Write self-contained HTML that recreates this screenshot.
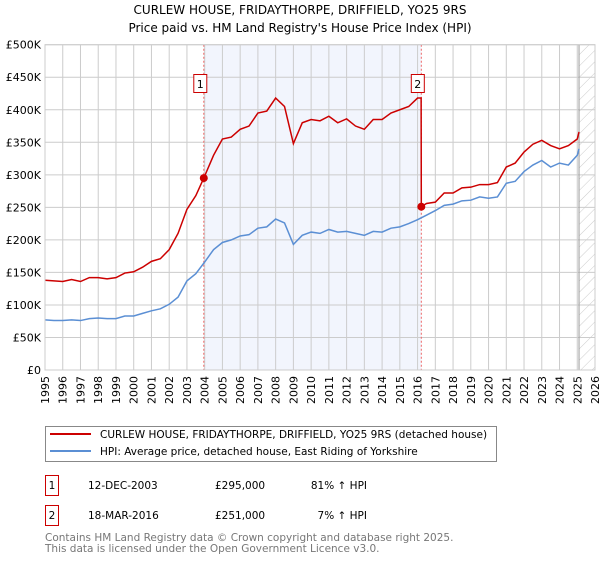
<!DOCTYPE html>
<html><head><meta charset="utf-8"><style>
body{margin:0;background:#fff;font-family:"DejaVu Sans","Liberation Sans",sans-serif;}
svg text{font-family:"DejaVu Sans","Liberation Sans",sans-serif;}
</style></head><body>
<svg id="chart" width="600" height="560" xmlns="http://www.w3.org/2000/svg">
<defs><pattern id="hatch" width="8" height="8" patternUnits="userSpaceOnUse" patternTransform="rotate(45)"><line x1="0" y1="0" x2="0" y2="8" stroke="#ccc" stroke-width="1"/></pattern></defs>
<text x="300" y="14" text-anchor="middle" font-size="12" fill="#000">CURLEW HOUSE, FRIDAYTHORPE, DRIFFIELD, YO25 9RS</text>
<text x="300" y="32" text-anchor="middle" font-size="12" fill="#000">Price paid vs. HM Land Registry's House Price Index (HPI)</text>
<g id="grid"></g>
<g id="series"></g>
<g id="legend">
<rect x="45.5" y="426.5" width="451" height="35" fill="#fff" stroke="#888"/>
<line x1="50" y1="434" x2="91" y2="434" stroke="#cc0000" stroke-width="2"/>
<text x="100" y="438" font-size="10.5">CURLEW HOUSE, FRIDAYTHORPE, DRIFFIELD, YO25 9RS (detached house)</text>
<line x1="50" y1="451" x2="91" y2="451" stroke="#5b8fd4" stroke-width="2"/>
<text x="100" y="455" font-size="10.5">HPI: Average price, detached house, East Riding of Yorkshire</text>
</g>
<g font-size="10.5">
<rect x="45.5" y="475.5" width="13" height="20" fill="#fff" stroke="#cc0000"/>
<text x="52" y="489" text-anchor="middle">1</text>
<text x="88" y="489">12-DEC-2003</text>
<text x="215" y="489">£295,000</text>
<text x="367" y="489" text-anchor="end">81% ↑ HPI</text>
<rect x="45.5" y="505.5" width="13" height="20" fill="#fff" stroke="#cc0000"/>
<text x="52" y="519" text-anchor="middle">2</text>
<text x="88" y="519">18-MAR-2016</text>
<text x="215" y="519">£251,000</text>
<text x="367" y="519" text-anchor="end">7% ↑ HPI</text>
</g>
<text x="45" y="541" font-size="10.5" fill="#777">Contains HM Land Registry data © Crown copyright and database right 2025.</text>
<text x="45" y="552" font-size="10.5" fill="#777">This data is licensed under the Open Government Licence v3.0.</text>
</svg>
<script>
const yTicks=[0,50,100,150,200,250,300,350,400,450,500];
const yTickLabels=["£0","£50K","£100K","£150K","£200K","£250K","£300K","£350K","£400K","£450K","£500K"];
const xYears=[1995,1996,1997,1998,1999,2000,2001,2002,2003,2004,2005,2006,2007,2008,2009,2010,2011,2012,2013,2014,2015,2016,2017,2018,2019,2020,2021,2022,2023,2024,2025,2026];
const hpiYears=[1995,1995.5,1996,1996.5,1997,1997.5,1998,1998.5,1999,1999.5,2000,2000.5,2001,2001.5,2002,2002.5,2003,2003.5,2004,2004.5,2005,2005.5,2006,2006.5,2007,2007.5,2008,2008.5,2009,2009.5,2010,2010.5,2011,2011.5,2012,2012.5,2013,2013.5,2014,2014.5,2015,2015.5,2016,2016.5,2017,2017.5,2018,2018.5,2019,2019.5,2020,2020.5,2021,2021.5,2022,2022.5,2023,2023.5,2024,2024.5,2025,2025.1];
const hpiValues=[77,76,76,77,76,79,80,79,79,83,83,87,91,94,101,112,137,148,166,185,196,200,206,208,218,220,232,226,193,207,212,210,216,212,213,210,207,213,212,218,220,225,231,238,245,253,255,260,261,266,264,266,287,290,305,315,322,312,318,315,330,340];
const priceYears=[1995,1995.5,1996,1996.5,1997,1997.5,1998,1998.5,1999,1999.5,2000,2000.5,2001,2001.5,2002,2002.5,2003,2003.5,2003.95,2004.5,2005,2005.5,2006,2006.5,2007,2007.5,2008,2008.5,2009,2009.5,2010,2010.5,2011,2011.5,2012,2012.5,2013,2013.5,2014,2014.5,2015,2015.5,2016,2016.2,2016.21,2016.5,2017,2017.5,2018,2018.5,2019,2019.5,2020,2020.5,2021,2021.5,2022,2022.5,2023,2023.5,2024,2024.5,2025,2025.1];
const priceValues=[138,137,136,139,136,142,142,140,142,149,151,158,167,171,185,210,247,268,295,330,355,358,370,375,395,398,418,405,348,380,385,383,390,380,386,375,370,385,385,395,400,405,418,418,251,256,258,272,272,280,281,285,285,288,312,318,335,347,353,345,340,345,355,366];
const saleYears=[2003.95,2016.21];
const saleValues=[295,251];
const saleLabels=["1","2"];
const NS="http://www.w3.org/2000/svg";
const X0=45,X1=595,Y0=370,Y1=44.7;
const xs=y=>X0+(y-1995)/(2026-1995)*(X1-X0);
const ys=v=>Y0-v/500*(Y0-Y1);
function mk(tag,attrs,parent){const e=document.createElementNS(NS,tag);for(const k in attrs)e.setAttribute(k,attrs[k]);parent.appendChild(e);return e;}
const grid=document.getElementById('grid');
let r=mk('rect',{x:xs(saleYears[0]),y:Y1,width:xs(saleYears[1])-xs(saleYears[0]),height:Y0-Y1,fill:'#eef2fc',opacity:0.75},grid);


let h=mk('rect',{x:xs(2025.1),y:Y1,width:X1-xs(2025.1),height:Y0-Y1,fill:'url(#hatch)'},grid);


yTicks.forEach((t,i)=>{
 const l=mk('line',{x1:X0,x2:X1,y1:ys(t),y2:ys(t),stroke:'#ccc','stroke-width':1},grid);
 
 
 const tx=mk('text',{x:X0-4,y:ys(t)+4,'text-anchor':'end','font-size':11},grid);
 tx.textContent=yTickLabels[i];
 
 
});
xYears.forEach(yr=>{
 const l=mk('line',{x1:xs(yr),x2:xs(yr),y1:Y1,y2:Y0,stroke:'#ccc','stroke-width':1},grid);
 
 
 const tx=mk('text',{x:0,y:0,'text-anchor':'end','font-size':11,transform:`translate(${xs(yr)+4},${Y0+6}) rotate(-90)`},grid);
 tx.textContent=yr;
 
 
});
const vl=mk('line',{x1:xs(2025.1),x2:xs(2025.1),y1:Y1,y2:Y0,stroke:'#999','stroke-width':1},grid);


const ser=document.getElementById('series');
saleYears.forEach(sy=>{
 const l=mk('line',{x1:xs(sy),x2:xs(sy),y1:Y1,y2:Y0,stroke:'#e66','stroke-width':1,'stroke-dasharray':'2,2'},ser);
 
 
});
const hp=mk('polyline',{points:hpiYears.map((y,i)=>xs(y)+','+ys(hpiValues[i])).join(' '),fill:'none',stroke:'#5b8fd4','stroke-width':1.5},ser);


const pp=mk('polyline',{points:priceYears.map((y,i)=>xs(y)+','+ys(priceValues[i])).join(' '),fill:'none',stroke:'#cc0000','stroke-width':1.5},ser);


saleYears.forEach((sy,i)=>{
 const c=mk('circle',{cx:xs(sy),cy:ys(saleValues[i]),r:4,fill:'#cc0000'},ser);
 
 
 const bx=xs(sy)-10;
 const b=mk('rect',{x:bx,y:74.5,width:13,height:18,fill:'#fff',stroke:'#cc0000'},ser);
 
 
 const t=mk('text',{x:bx+6.5,y:88,'text-anchor':'middle','font-size':11},ser);
 t.textContent=saleLabels[i];
 
 
});
const ax=mk('rect',{x:X0,y:Y1,width:X1-X0,height:Y0-Y1,fill:'none',stroke:'#ccc'},ser);


</script>
</body></html>
